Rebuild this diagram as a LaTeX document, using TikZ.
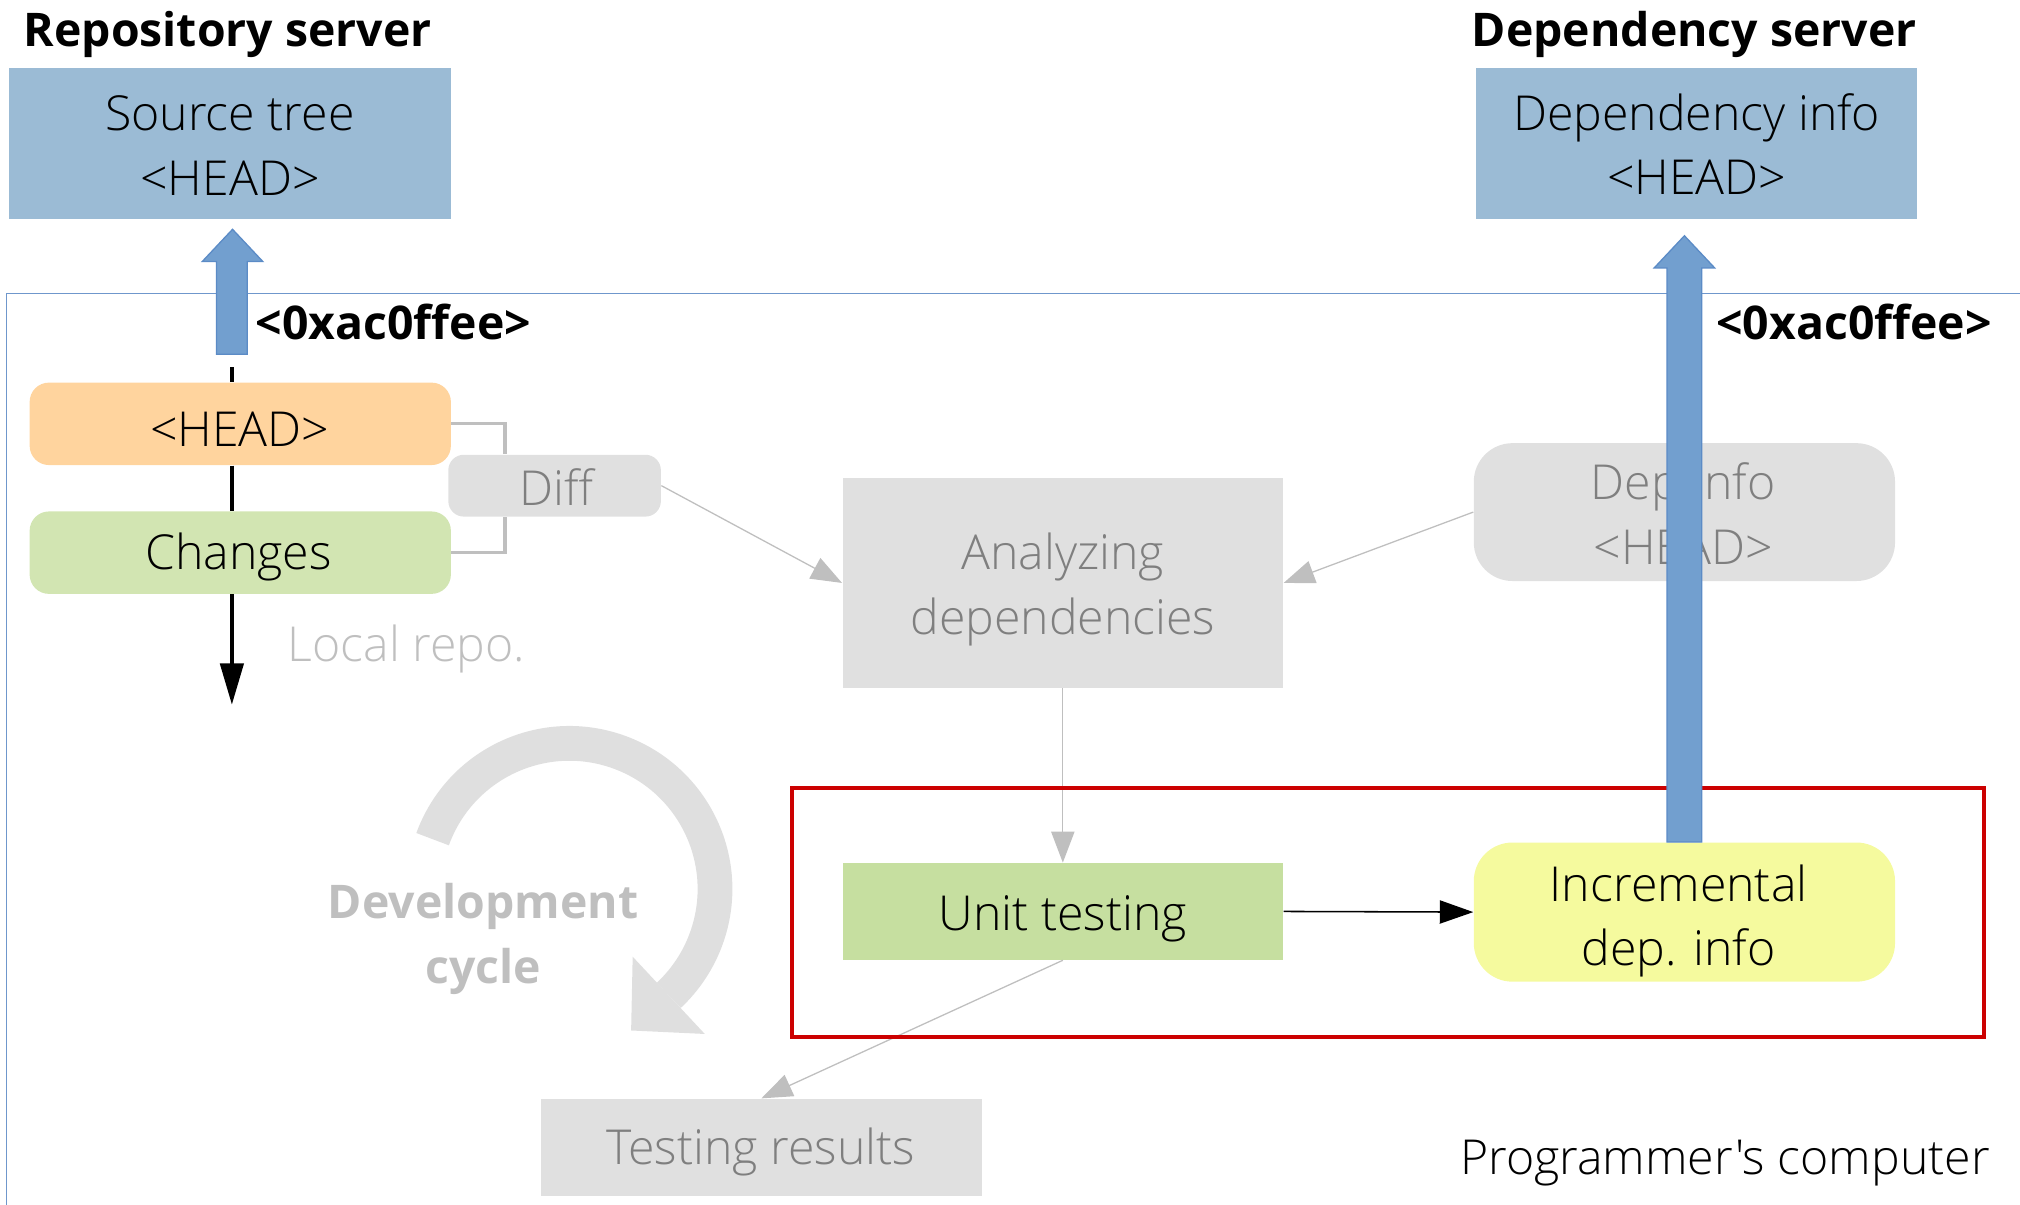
\documentclass[tikz,border=0pt]{standalone}
\usepackage{fontspec}
\setmainfont{Open Sans}
\newfontfamily\lightfont{Open Sans Light}
\usetikzlibrary{arrows.meta,calc}
\definecolor{boxblue}{HTML}{9BBBD5}
\definecolor{arrblue}{HTML}{729FCF}
\definecolor{arredge}{HTML}{5B8BC6}
\definecolor{framecol}{HTML}{6F97CC}
\definecolor{headorange}{HTML}{FFD49E}
\definecolor{chggreen}{HTML}{D2E5B2}
\definecolor{unitgreen}{HTML}{C6DFA0}
\definecolor{incyellow}{HTML}{F5FA9E}
\definecolor{boxgray}{HTML}{E0E0E0}
\definecolor{txtgray}{HTML}{7F7F7F}
\definecolor{lgray}{HTML}{BFBFBF}
\definecolor{framered}{HTML}{CC0000}
\definecolor{cyclegray}{HTML}{DFDFDF}
\begin{document}
\begin{tikzpicture}[x=0.5pt,y=-0.5pt,
  txt/.style={inner sep=0pt, align=center, font=\lightfont\fontsize{18.7pt}{25pt}\selectfont},
  heading/.style={inner sep=0pt, font=\bfseries\fontsize{18pt}{25pt}\selectfont},
  sqbox/.style={inner sep=0pt, rectangle, minimum width=171pt},
  rbox/.style={inner sep=0pt, rectangle, rounded corners=#1},
  grayarrow/.style={draw=lgray, line width=0.5pt, -{Triangle[length=12pt,width=9pt]}},
  blackarrow/.style={draw=black, line width=0.6pt, -{Triangle[length=13pt,width=9pt]}},
  bracket/.style={draw=lgray, line width=1.2pt},
  blockarrow/.style={fill=arrblue, draw=arredge, line width=0.5pt}
]
\useasboundingbox (0,0) rectangle (1568,935);

% frame of programmer's computer
\draw[framecol, line width=0.6pt] (5,935) -- (5,228) -- (1568,228);

% headings
\node[heading, anchor=base west] (reposrv) at (18,36) {Repository server};
\node[heading, anchor=base west] (depsrv) at (1142,36) {Dependency server};

% server boxes
\node[sqbox, fill=boxblue, minimum width=171.5pt, minimum height=58.5pt] (src) at (178.5,111.5) {};
\node[txt] (srct) at (178.5,113) {Source tree\\<HEAD>};
\node[sqbox, fill=boxblue, minimum height=58.5pt] (dep) at (1317,111.5) {};
\node[txt] (dept) at (1317,112) {Dependency info\\<HEAD>};

% local repo
\node[rbox=7.5pt, fill=headorange, minimum width=163.5pt, minimum height=32pt] (head) at (186.5,329) {};
\node[txt] (headt) at (186,333) {<HEAD>};
\node[rbox=7.5pt, fill=chggreen, minimum width=163.5pt, minimum height=32pt] (chg) at (186.5,429) {};
\node[txt] (chgt) at (185,432) {Changes};
\node[rbox=6pt, fill=boxgray, minimum width=82.5pt, minimum height=24pt] (diff) at (430.5,377) {};
\node[txt, text=txtgray] (difft) at (432,378) {Diff};
\node[txt, text=lgray, anchor=west] (local) at (223,504) {Local repo.};

\coordinate (lr) at (180,285);
\draw[black, line width=1.5pt] (lr) -- (lr |- head.north);
\draw[black, line width=1.5pt] (lr |- head.south) -- (lr |- chg.north);
\coordinate (lrend) at (180,547);
\draw[black, line width=1.5pt, -{Triangle[length=16pt,width=9pt]}] (lr |- chg.south) -- (lrend);

\coordinate (bx) at (392,329);
\draw[bracket] (head.east) -- (bx) -- (bx |- diff.north);
\draw[bracket] (chg.east) -- (bx |- chg.east) -- (bx |- diff.south);

% left block arrow
\coordinate (lab) at (180,275);
\draw[blockarrow] ($(lab)+(-12,0)$) -- ($(lab)+(12,0)$) -- (192,203) -- (204,203) -- (180.5,178) -- (157,203) -- (168,203) -- cycle;
\node[heading, anchor=west] (hashl) at (198,250) {<0xac0ffee>};

% analysis
\node[sqbox, fill=boxgray, minimum height=81.5pt] (ana) at (825,452.5) {};
\node[txt, text=txtgray] (anat) at (825,457.5) {Analyzing\\dependencies};
\node[rbox=15pt, fill=boxgray, minimum width=163.5pt, minimum height=53.5pt] (depinfo) at (1307.5,397.5) {};
\node[txt, text=txtgray] (depinfot) at (1306.5,398.5) {Dep Info\\<HEAD>};

\draw[grayarrow] (diff.east) -- (ana.west);
\draw[grayarrow] (depinfo.west) -- (ana.east);

% unit testing etc.
\node[sqbox, fill=unitgreen, minimum height=37.5pt] (unit) at (825,707.5) {};
\node[txt] (unitt) at (825,713.5) {Unit testing};
\node[rbox=15pt, fill=incyellow, minimum width=163.5pt, minimum height=54pt] (inc) at (1307.5,708) {};
\node[txt] (inct) at (1303,715) {Incremental\\dep. info};
\node[sqbox, fill=boxgray, minimum height=37.5pt] (res) at (591,890.5) {};
\node[txt, text=txtgray] (rest) at (590.5,894.5) {Testing results};

\draw[grayarrow] (ana.south) -- (unit.north);
\draw[grayarrow] (unit.south) -- (res.north);
\draw[blackarrow] (unit.east) -- (inc.west);

% red frame
\draw[framered, line width=1.5pt] (615,612) rectangle (1540,805);

% right block arrow
\draw[blockarrow] ($(inc.north)+(-13.5,0)$) -- ($(inc.north)+(13.5,0)$) -- (1321,208) -- (1331,208) -- (1307.5,183) -- (1284,208) -- (1294,208) -- cycle;
\node[heading, anchor=west] (hashr) at (1332,250) {<0xac0ffee>};

% development cycle
\draw[cyclegray, line width=13.5pt] (335.8,651.4) arc[start angle=-160, end angle=47, radius=113];
\fill[cyclegray] (491.1,742.6) -- (547.1,802.6) -- (489.9,799.9) -- cycle;
\node[heading, text=lgray, align=center] (cyc) at (375,729) {Development\\cycle};

\node[txt, anchor=east] (pc) at (1545,903) {Programmer{\char"0027}s computer};
\end{tikzpicture}
\end{document}
